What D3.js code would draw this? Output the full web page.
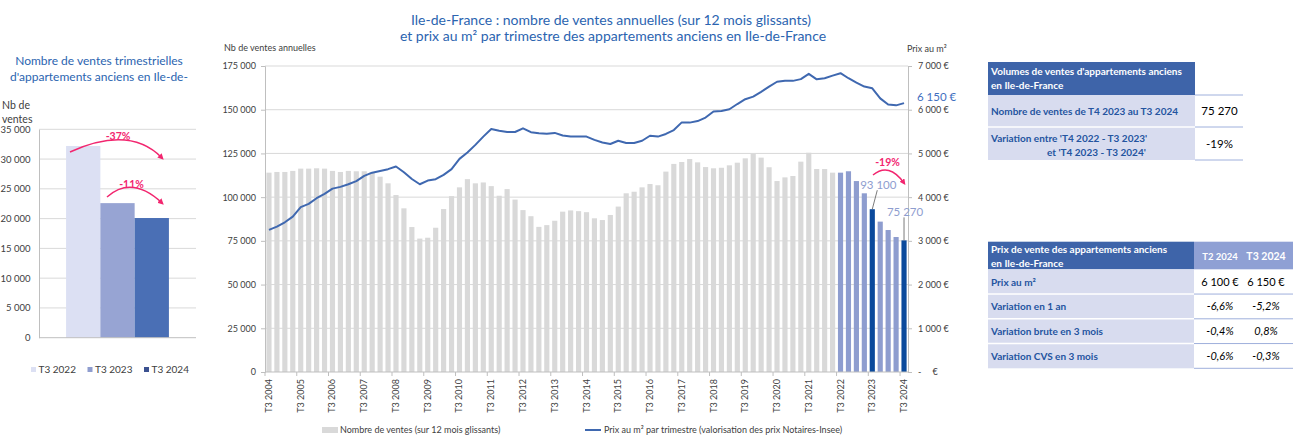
<!DOCTYPE html>
<html>
<head>
<meta charset="utf-8">
<script src="https://cdn.jsdelivr.net/npm/d3@7"></script>
<style>
  body { margin: 0; background: #fff; }
  svg { display: block; font-family: Lato, "Open Sans", sans-serif; }
</style>
</head>
<body>
<svg id="chart" width="1297" height="436"></svg>
<script>
// quarters T3 2004 .. T3 2024
var quarters = []
for (var yr = 2004; yr <= 2024; yr++) {
  for (var q = 1; q <= 4; q++) {
    if ((yr === 2004 && q < 3) || (yr === 2024 && q > 3)) continue
    quarters.push('T' + q + ' ' + yr)
  }
}

// nombre de ventes sur 12 mois glissants
var salesAnnual = [
  114000, 114400, 114400, 115000, 116300, 116300, 116500, 116300, 115000, 114400,
  115000, 114800, 114800, 114200, 111700, 107900, 101200, 93600, 82900, 76300,
  76800, 82500, 93200, 100600, 105600, 110300, 107900, 108400, 106300, 100800,
  104600, 98600, 92600, 89100, 83000, 84000, 86500, 91700, 92400, 92000,
  91400, 87900, 86900, 89800, 94600, 102200, 103100, 105600, 107500, 106800,
  114600, 119000, 120100, 121800, 119900, 117200, 116500, 116800, 118200, 119700,
  122200, 124700, 122600, 117100, 109200, 111300, 112100, 120300, 125400, 116100,
  116100, 114000, 114000, 114800, 109200, 102200, 93100, 86000, 81200, 77200,
  75270
]

// prix au m2 par trimestre
var priceM2 = [
  3250, 3325, 3425, 3555, 3770, 3845, 3975, 4075, 4195, 4235,
  4295, 4365, 4485, 4560, 4600, 4640, 4700, 4570, 4415, 4295,
  4380, 4410, 4510, 4640, 4875, 5020, 5195, 5385, 5560, 5520,
  5490, 5490, 5575, 5485, 5460, 5450, 5470, 5410, 5385, 5385,
  5385, 5310, 5250, 5215, 5290, 5240, 5240, 5290, 5405, 5385,
  5445, 5535, 5710, 5705, 5740, 5820, 5960, 5970, 6010, 6130,
  6240, 6300, 6410, 6530, 6640, 6665, 6660, 6700, 6820, 6695,
  6720, 6780, 6835, 6720, 6620, 6530, 6490, 6260, 6120, 6100,
  6150
]

var highlightFrom = 'T3 2022'
var darkQuarters = ['T3 2023', 'T3 2024']
var salesTicks = [0, 25000, 50000, 75000, 100000, 125000, 150000, 175000]
var priceTicks = [0, 1000, 2000, 3000, 4000, 5000, 6000, 7000]
var xTickLabels = quarters.filter(function(d) { return d.indexOf('T3') === 0 })
var annualVariation = '-19%'

// ventes trimestrielles
var qLabels = ['T3 2022', 'T3 2023', 'T3 2024']
var qSales = [32200, 22600, 20100]
var qTicks = [0, 5000, 10000, 15000, 20000, 25000, 30000, 35000]
var qVariations = ['-37%', '-11%']

// tableaux
var volHeader = ["Volumes de ventes d'appartements anciens", "en Ile-de-France"]
var volLabels = [["Nombre de ventes de T4 2023 au T3 2024"], ["Variation entre 'T4 2022 - T3 2023'", "et 'T4 2023 - T3 2024'"]]
var volValues = ['75 270', '-19%']
var priceHeader = ['Prix de vente des appartements anciens', 'en Ile-de-France']
var priceCols = ['T2 2024', 'T3 2024']
var priceLabels = ['Prix au m\u00b2', 'Variation en 1 an', 'Variation brute en 3 mois', 'Variation CVS en 3 mois']
var priceT2 = ['6 100 \u20ac', '-6,6%', '-0,4%', '-0,6%']
var priceT3 = ['6 150 \u20ac', '-5,2%', '0,8%', '-0,3%']

var fr = d3.formatLocale({ decimal: ',', thousands: '\u00a0', grouping: [3], currency: ['', ' \u20ac'] })
var fmt = fr.format(',d')

var svg = d3.select('#chart')
var pink = '#f2266f'
var titleBlue = '#2b64b0'
var axisGrey = '#bfbfbf'
var gridGrey = '#d9d9d9'
var textGrey = '#404040'

svg.append('defs').append('marker')
  .attr('id', 'arrow').attr('viewBox', '0 0 10 10')
  .attr('refX', 6).attr('refY', 5)
  .attr('markerWidth', 4).attr('markerHeight', 4)
  .attr('orient', 'auto')
  .append('path').attr('d', 'M0,0 L10,5 L0,10 z').attr('fill', pink)

// ================= main chart =================
var plot = { left: 265, right: 908, top: 66, bottom: 372 }

var x = d3.scaleBand().domain(quarters).range([plot.left, plot.right]).paddingInner(0.35).paddingOuter(0.175)
var ySales = d3.scaleLinear().domain([0, 175000]).range([plot.bottom, plot.top])
var yPrice = d3.scaleLinear().domain([0, 7000]).range([plot.bottom, plot.top])
var cx = function(d) { return x(d) + x.bandwidth() / 2 }

svg.append('g').selectAll('line').data(salesTicks.slice(1)).enter().append('line')
  .attr('x1', plot.left).attr('x2', plot.right)
  .attr('y1', function(d) { return ySales(d) }).attr('y2', function(d) { return ySales(d) })
  .attr('stroke', gridGrey)

var hiIndex = quarters.indexOf(highlightFrom)
svg.append('g').selectAll('rect').data(salesAnnual).enter().append('rect')
  .attr('x', function(d, i) { return x(quarters[i]) })
  .attr('width', x.bandwidth())
  .attr('y', function(d) { return ySales(d) })
  .attr('height', function(d) { return plot.bottom - ySales(d) })
  .attr('fill', function(d, i) {
    if (darkQuarters.indexOf(quarters[i]) >= 0) return '#0b4a9c'
    if (i >= hiIndex) return '#8e9dcf'
    return '#d9d9d9'
  })

var axisL = svg.append('g').attr('transform', 'translate(' + plot.left + ',0)')
  .call(d3.axisLeft(ySales).tickValues(salesTicks).tickFormat(fmt).tickSize(4).tickPadding(5))
var axisR = svg.append('g').attr('transform', 'translate(' + plot.right + ',0)')
  .call(d3.axisRight(yPrice).tickValues(priceTicks).tickSize(4).tickPadding(6)
    .tickFormat(function(d) { return d === 0 ? '-\u2003\u2002\u20ac' : fmt(d) + ' \u20ac' }))
;[axisL, axisR].forEach(function(a) {
  a.selectAll('path,line').attr('stroke', axisGrey)
  a.selectAll('text').attr('fill', textGrey).attr('font-size', 9).attr('font-family', 'Lato')
})

// bottom axis
svg.append('line').attr('x1', plot.left).attr('x2', plot.right)
  .attr('y1', plot.bottom).attr('y2', plot.bottom).attr('stroke', axisGrey)
var xt = svg.append('g').selectAll('g').data(xTickLabels).enter().append('g')
xt.append('line')
  .attr('x1', function(d) { return cx(d) - x.step() / 2 }).attr('x2', function(d) { return cx(d) - x.step() / 2 })
  .attr('y1', plot.bottom).attr('y2', plot.bottom + 4).attr('stroke', axisGrey)
xt.append('text')
  .attr('transform', function(d) { return 'translate(' + (cx(d) + 3) + ',' + (plot.bottom + 7) + ') rotate(-90)' })
  .attr('text-anchor', 'end').attr('font-size', 9).attr('fill', textGrey)
  .text(function(d) { return d })

// price line
svg.append('path').datum(priceM2)
  .attr('d', d3.line().x(function(d, i) { return cx(quarters[i]) }).y(function(d) { return yPrice(d) }))
  .attr('fill', 'none').attr('stroke', '#3f68b0').attr('stroke-width', 2).attr('stroke-linejoin', 'round')

// titles
var title = svg.append('text').attr('text-anchor', 'middle').attr('fill', titleBlue).attr('font-size', 14)
title.append('tspan').attr('x', 611).attr('y', 25).text('Ile-de-France : nombre de ventes annuelles (sur 12 mois glissants)')
title.append('tspan').attr('x', 613).attr('y', 40.5).text('et prix au m\u00b2 par trimestre des appartements anciens en Ile-de-France')
svg.append('text').attr('x', 224).attr('y', 51).attr('font-size', 9).attr('fill', textGrey).text('Nb de ventes annuelles')
svg.append('text').attr('x', 907).attr('y', 52).attr('font-size', 9).attr('fill', textGrey).text('Prix au m\u00b2')

// labels on the last points
var last = quarters.length - 1
svg.append('text').attr('x', plot.right + 9).attr('y', yPrice(priceM2[last]) - 2)
  .attr('font-size', 11.5).attr('fill', '#3f6fbf').text(fmt(priceM2[last]) + ' \u20ac')

darkQuarters.forEach(function(qq, k) {
  var i = quarters.indexOf(qq)
  var v = salesAnnual[i]
  var tx = cx(qq) + (k === 0 ? 6 : 1)
  var ty = k === 0 ? ySales(v) - 20 : ySales(v) - 24
  svg.append('text').attr('x', tx).attr('y', ty).attr('text-anchor', 'middle')
    .attr('font-size', 11.5).attr('fill', '#8e9dcf').text(fmt(v))
  svg.append('line').attr('x1', tx - 1).attr('y1', ty + 1).attr('x2', cx(qq)).attr('y2', ySales(v))
    .attr('stroke', '#595959').attr('stroke-width', 0.8)
})

svg.append('text').attr('x', 887.5).attr('y', 166).attr('text-anchor', 'middle')
  .attr('font-size', 10.5).attr('font-weight', 'bold').attr('fill', pink).text(annualVariation)
svg.append('path').attr('d', 'M873,175 Q889,162 904,183')
  .attr('fill', 'none').attr('stroke', pink).attr('stroke-width', 1.5).attr('marker-end', 'url(#arrow)')

// legend
svg.append('rect').attr('x', 322).attr('y', 427).attr('width', 16).attr('height', 6).attr('fill', '#d9d9d9')
svg.append('text').attr('x', 340).attr('y', 433).attr('font-size', 9).attr('fill', textGrey)
  .text('Nombre de ventes (sur 12 mois glissants)')
svg.append('line').attr('x1', 585).attr('x2', 601).attr('y1', 430).attr('y2', 430)
  .attr('stroke', '#3f68b0').attr('stroke-width', 2)
svg.append('text').attr('x', 604).attr('y', 433).attr('font-size', 9).attr('fill', textGrey)
  .text('Prix au m\u00b2 par trimestre (valorisation des prix Notaires-Insee)')

// ================= quarterly chart =================
var qp = { left: 39, right: 196, top: 129.3, bottom: 337.7 }
var xq = d3.scaleBand().domain(qLabels).range([qp.left, qp.right]).paddingInner(0).paddingOuter(0.79)
var yq = d3.scaleLinear().domain([0, 35000]).range([qp.bottom, qp.top])
var qColors = ['#dce0f3', '#97a4d3', '#4a6fb5']
var qLegend = ['#dce0f3', '#8f9dcf', '#3b5190']

svg.append('g').selectAll('line').data(qTicks.slice(1)).enter().append('line')
  .attr('x1', qp.left).attr('x2', qp.right)
  .attr('y1', function(d) { return yq(d) }).attr('y2', function(d) { return yq(d) })
  .attr('stroke', gridGrey)
svg.append('g').selectAll('rect').data(qSales).enter().append('rect')
  .attr('x', function(d, i) { return xq(qLabels[i]) })
  .attr('width', xq.bandwidth())
  .attr('y', function(d) { return yq(d) })
  .attr('height', function(d) { return qp.bottom - yq(d) })
  .attr('fill', function(d, i) { return qColors[i] })
var qAxis = svg.append('g').attr('transform', 'translate(' + qp.left + ',0)')
  .call(d3.axisLeft(yq).tickValues(qTicks).tickFormat(fmt).tickSize(0).tickPadding(8.5))
qAxis.selectAll('path').attr('stroke', axisGrey)
qAxis.selectAll('text').attr('fill', textGrey).attr('font-size', 9.5).attr('font-family', 'Lato')
svg.append('line').attr('x1', qp.left).attr('x2', qp.right).attr('y1', qp.bottom).attr('y2', qp.bottom).attr('stroke', axisGrey)

var qTitle = svg.append('text').attr('text-anchor', 'middle').attr('fill', titleBlue).attr('font-size', 12)
qTitle.append('tspan').attr('x', 99).attr('y', 65).text('Nombre de ventes trimestrielles')
qTitle.append('tspan').attr('x', 99).attr('y', 81).text("d'appartements anciens en Ile-de-")
var qyl = svg.append('text').attr('font-size', 10.5).attr('fill', textGrey)
qyl.append('tspan').attr('x', 2).attr('y', 109).text('Nb de')
qyl.append('tspan').attr('x', 2).attr('y', 123).text('ventes')

var qlg = svg.append('g').selectAll('g').data(qLabels).enter().append('g')
  .attr('transform', function(d, i) { return 'translate(' + [31, 87.5, 144][i] + ',367)' })
qlg.append('rect').attr('width', 5).attr('height', 5).attr('fill', function(d, i) { return qLegend[i] })
qlg.append('text').attr('x', 7.5).attr('y', 6).attr('font-size', 10).attr('fill', textGrey).text(function(d) { return d })

var qArcs = [
  { text: qVariations[0], tx: 118, ty: 139.5, d: 'M70,152 Q130,125 162,158' },
  { text: qVariations[1], tx: 131.5, ty: 187.5, d: 'M107,197 Q132,175 162,203' }
]
qArcs.forEach(function(a) {
  svg.append('text').attr('x', a.tx).attr('y', a.ty).attr('text-anchor', 'middle')
    .attr('font-size', 10.5).attr('font-weight', 'bold').attr('fill', pink).text(a.text)
  svg.append('path').attr('d', a.d).attr('fill', 'none').attr('stroke', pink)
    .attr('stroke-width', 1.5).attr('marker-end', 'url(#arrow)')
})

// ================= tables =================
var headBlue = '#3e64a9', lightBlue = '#8fa0d4', lavender = '#d8dcef', rowText = '#2454a0', sepBlue = '#9fb0dc'

// volumes
var t1 = svg.append('g')
t1.append('rect').attr('x', 988).attr('y', 62).attr('width', 207).attr('height', 33).attr('fill', headBlue)
volHeader.forEach(function(s, i) {
  t1.append('text').attr('x', 991).attr('y', 75 + i * 13.5).attr('font-size', 10).attr('font-weight', 'bold')
    .attr('fill', '#fff').text(s)
})
var volTops = [95, 127, 160]
volLabels.forEach(function(lab, r) {
  var y0 = volTops[r], y1 = volTops[r + 1]
  t1.append('rect').attr('x', 988).attr('y', y0).attr('width', 207).attr('height', y1 - y0).attr('fill', lavender)
  lab.forEach(function(s, j) {
    var yy = lab.length === 1 ? (y0 + y1) / 2 + 4 : y0 + 14.5 + j * 14
    t1.append('text').attr('x', j === 0 ? 991 : 1047).attr('y', yy).attr('font-size', 10)
      .attr('font-weight', 'bold').attr('fill', rowText).text(s)
  })
  t1.append('text').attr('x', 1219.5).attr('y', (y0 + y1) / 2 + 4).attr('text-anchor', 'middle')
    .attr('font-size', 11.5).attr('fill', '#000').text(volValues[r])
})
volTops.forEach(function(y, r) {
  t1.append('line').attr('x1', 1195).attr('x2', 1243).attr('y1', y).attr('y2', y).attr('stroke', sepBlue)
  if (r === 1) t1.append('line').attr('x1', 988).attr('x2', 1195).attr('y1', y).attr('y2', y).attr('stroke', '#fff').attr('stroke-width', 1.5)
})

// prix
var t2 = svg.append('g')
t2.append('rect').attr('x', 988).attr('y', 241.7).attr('width', 206).attr('height', 27.6).attr('fill', headBlue)
t2.append('rect').attr('x', 1194).attr('y', 241.7).attr('width', 99).attr('height', 27.6).attr('fill', lightBlue)
priceHeader.forEach(function(s, i) {
  t2.append('text').attr('x', 991).attr('y', 253 + i * 14).attr('font-size', 10).attr('font-weight', 'bold')
    .attr('fill', '#fff').text(s)
})
var colX = [1220, 1266]
priceCols.forEach(function(s, i) {
  t2.append('text').attr('x', colX[i]).attr('y', 260).attr('text-anchor', 'middle')
    .attr('font-size', i === 0 ? 9.5 : 10.5).attr('font-weight', 'bold').attr('fill', '#fff').text(s)
})
var rowH = 24.75, row0 = 269.3
priceLabels.forEach(function(s, r) {
  var y0 = row0 + r * rowH
  t2.append('rect').attr('x', 988).attr('y', y0).attr('width', 206).attr('height', rowH).attr('fill', lavender)
  t2.append('text').attr('x', 991).attr('y', y0 + rowH / 2 + 4).attr('font-size', 10)
    .attr('font-weight', 'bold').attr('fill', rowText).text(s)
  ;[priceT2[r], priceT3[r]].forEach(function(v, c) {
    t2.append('text').attr('x', colX[c]).attr('y', y0 + rowH / 2 + 4).attr('text-anchor', 'middle')
      .attr('font-size', 11).attr('font-style', r > 0 ? 'italic' : 'normal').attr('fill', '#000').text(v)
  })
  if (r > 0) {
    t2.append('line').attr('x1', 988).attr('x2', 1194).attr('y1', y0).attr('y2', y0).attr('stroke', '#fff').attr('stroke-width', 1.5)
  }
  t2.append('line').attr('x1', 1194).attr('x2', 1293).attr('y1', y0 + rowH).attr('y2', y0 + rowH).attr('stroke', sepBlue)
})
</script>
</body>
</html>
